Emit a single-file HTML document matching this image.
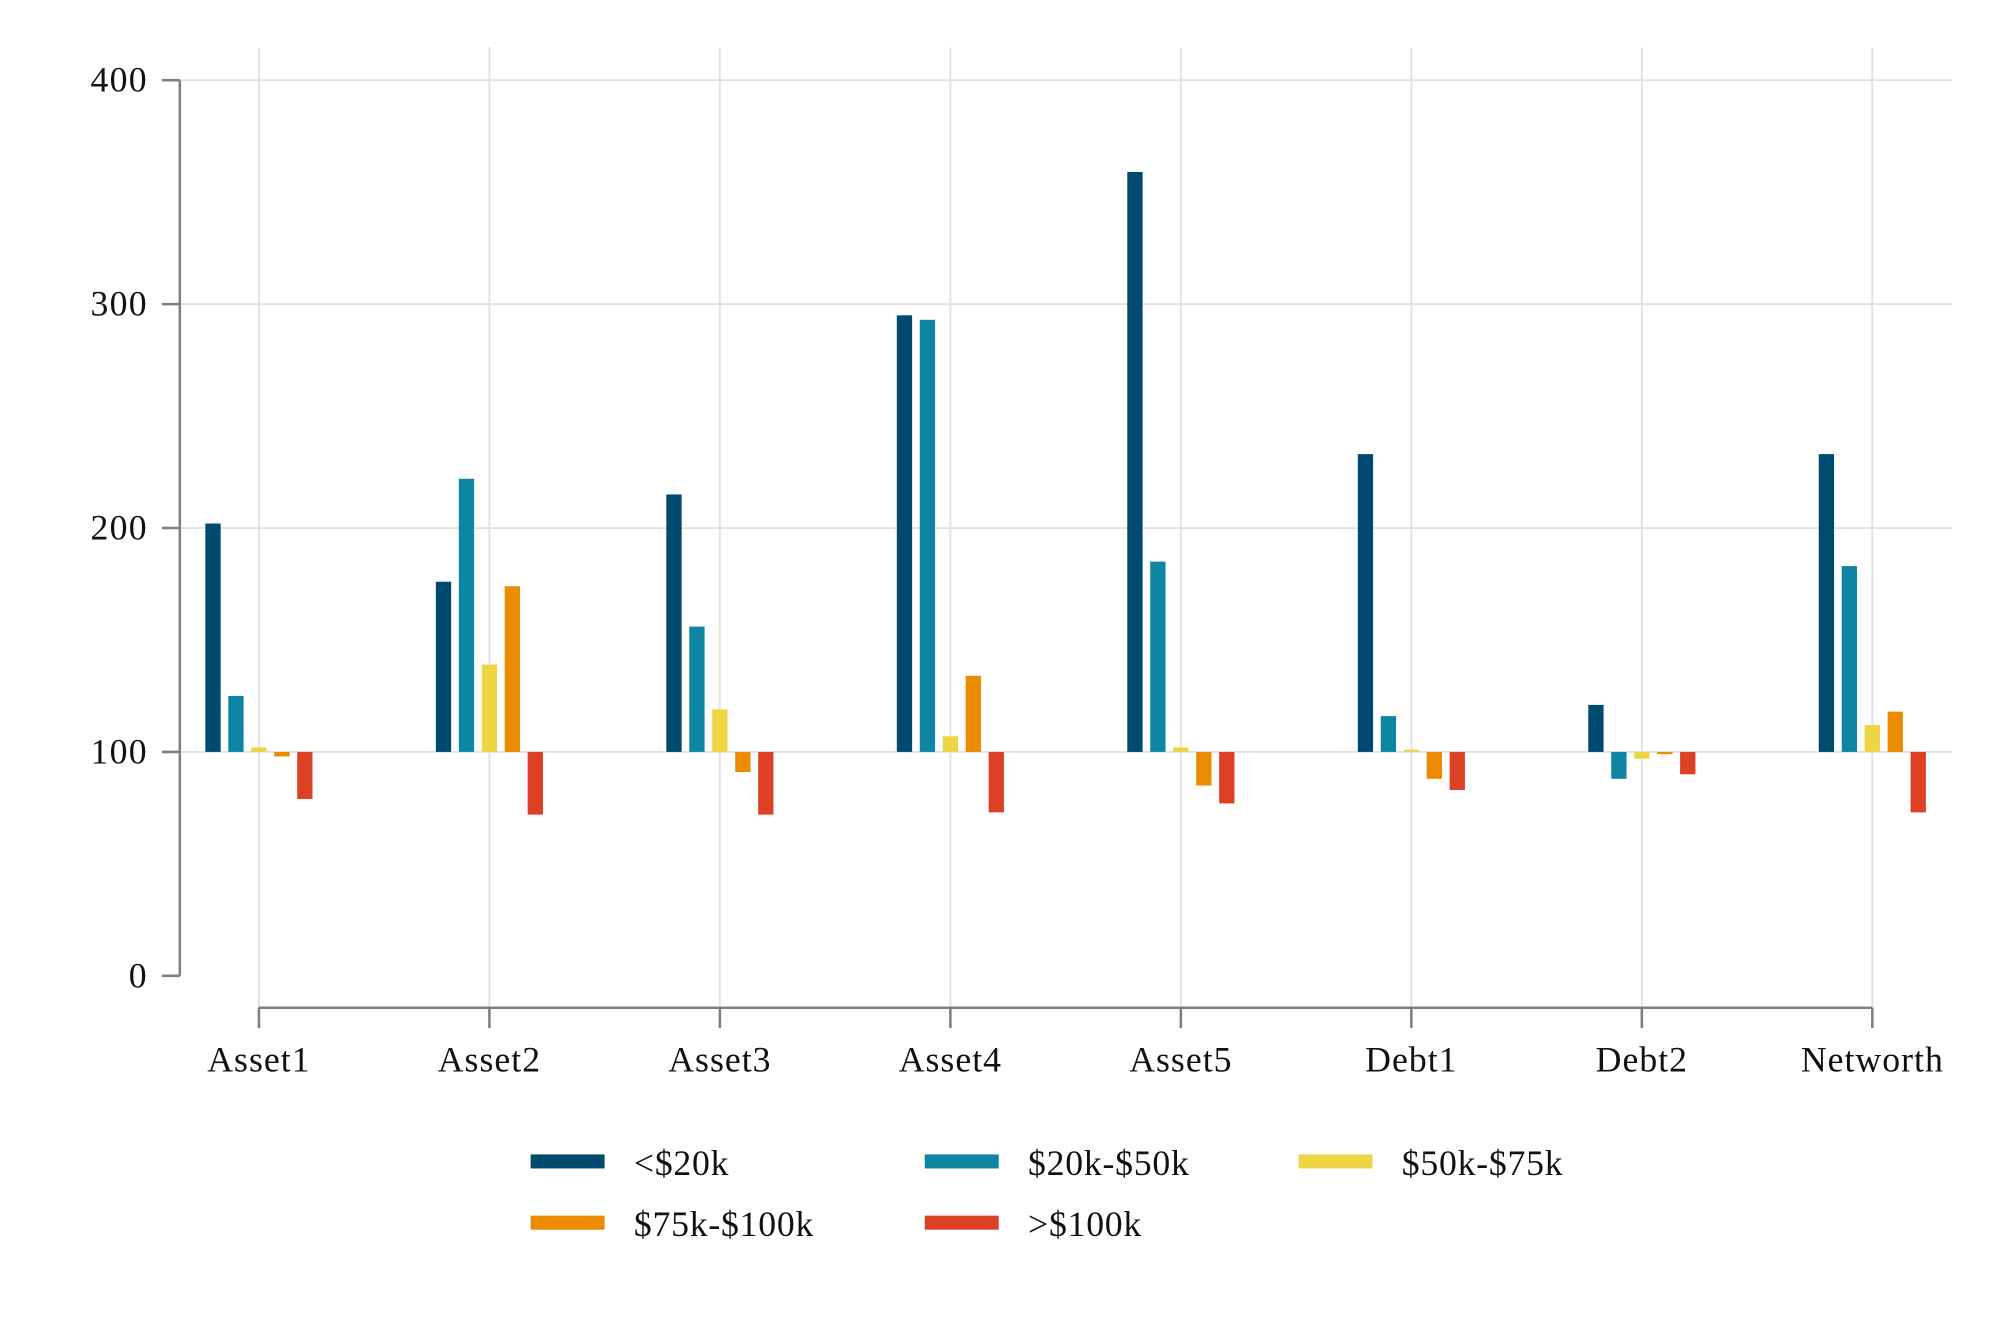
<!DOCTYPE html>
<html><head><meta charset="utf-8"><style>
html,body{margin:0;padding:0;background:#fff;}
svg{display:block;}
text{font-family:"Liberation Serif",serif;fill:#111;}
</style></head><body>
<svg id="chart" width="2000" height="1333" viewBox="0 0 1568 1045" preserveAspectRatio="none" xmlns="http://www.w3.org/2000/svg">
<rect width="1568" height="1045" fill="#fff"/>
<g id="grid"></g><g id="bars"></g><g id="axes"></g><g id="legend"></g>
</svg>
<script>
const categories = ["Asset1","Asset2","Asset3","Asset4","Asset5","Debt1","Debt2","Networth"];
const seriesNames = ["<$20k","$20k-$50k","$50k-$75k","$75k-$100k",">$100k"];
const sLt20 = [202,176,215,295,359,233,121,233];
const s20to50 = [125,222,156,293,185,116,88,183];
const s50to75 = [102,139,119,107,102,101,97,112];
const s75to100 = [98,174,91,134,85,88,99,118];
const sGt100 = [79,72,72,73,77,83,90,73];
const yTicks = [0,100,200,300,400];
const baseline = 100;

const series = [sLt20,s20to50,s50to75,s75to100,sGt100];
const colors = ["#00496f","#0e86a3","#edd544","#ec8b00","#dd4125"];
const NS = "http://www.w3.org/2000/svg";
const y = v => 765 - v * 1.7553;
const x = i => 203 + i * 180.7;
function mk(tag, attrs, parent){const e=document.createElementNS(NS,tag);for(const k in attrs)e.setAttribute(k,attrs[k]);parent.appendChild(e);return e;}
const grid=document.getElementById('grid'), bars=document.getElementById('bars'), axes=document.getElementById('axes'), legend=document.getElementById('legend');

yTicks.forEach(t=>{
  if(t>0){const l=mk('line',{x1:141,x2:1531,y1:y(t),y2:y(t),stroke:'#e2e2e2','stroke-width':1.5},grid);
  
  }
  const tk=mk('line',{x1:127,x2:141,y1:y(t),y2:y(t),stroke:'#808080','stroke-width':2},axes);
  
  
  const tx=mk('text',{x:116,y:y(t)+9,'text-anchor':'end','font-size':28,'letter-spacing':1},axes);
  tx.textContent=t;
  
  
});
categories.forEach((c,i)=>{
  const g=mk('line',{x1:x(i),x2:x(i),y1:37,y2:790,stroke:'#e2e2e2','stroke-width':1.5},grid);
  
  
  const tk=mk('line',{x1:x(i),x2:x(i),y1:790,y2:806,stroke:'#808080','stroke-width':2},axes);
  
  
  const tx=mk('text',{x:x(i),y:840,'text-anchor':'middle','font-size':28,'letter-spacing':0.8},axes);
  tx.textContent=c;
  
  
  series.forEach((s,j)=>{
    const v=s[i], y0=y(baseline), y1=y(v);
    const r=mk('rect',{x:x(i)+(j-2)*18-6,y:Math.min(y0,y1),width:12,height:Math.max(Math.abs(y1-y0),1.5),fill:colors[j]},bars);
    
    
  });
});
const ya=mk('line',{x1:141,x2:141,y1:63,y2:765,stroke:'#808080','stroke-width':2},axes);


const xa=mk('line',{x1:203,x2:x(7),y1:790,y2:790,stroke:'#808080','stroke-width':2},axes);



const lpos=[[416,910],[725,910],[1018,910],[416,958],[725,958]];
seriesNames.forEach((n,j)=>{
  const [lx,ly]=lpos[j];
  const sw=mk('rect',{x:lx,y:ly-5,width:58,height:11,fill:colors[j]},legend);
  
  
  const t=mk('text',{x:lx+81,y:ly+11,'font-size':28,'letter-spacing':0.6},legend);
  t.textContent=n;
  
  
});
</script>
</body></html>
